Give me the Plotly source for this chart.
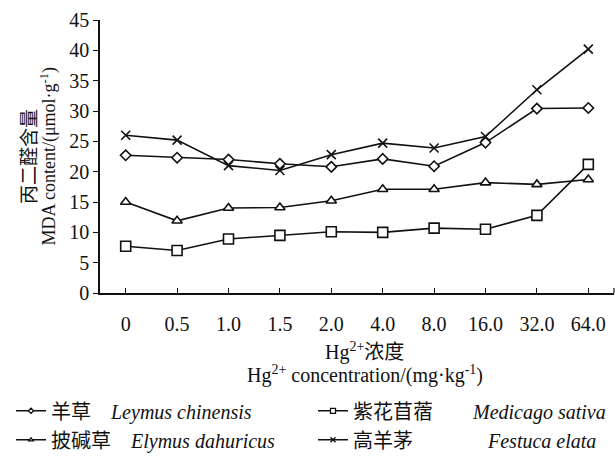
import plotly.graph_objects as go

categories = ["0", "0.5", "1.0", "1.5", "2.0", "4.0", "8.0", "16.0", "32.0", "64.0"]
leymus = [22.7, 22.3, 22.0, 21.3, 20.8, 22.1, 20.9, 24.8, 30.4, 30.5]
medicago = [7.7, 7.0, 8.9, 9.5, 10.1, 10.0, 10.7, 10.5, 12.8, 21.2]
elymus = [15.0, 11.9, 14.0, 14.1, 15.2, 17.1, 17.1, 18.2, 17.9, 18.7]
festuca = [26.0, 25.2, 21.0, 20.2, 22.8, 24.7, 23.9, 25.8, 33.5, 40.2]
y_ticks = [0, 5, 10, 15, 20, 25, 30, 35, 40, 45]

names = [
    "羊草&nbsp;&nbsp;&nbsp;&nbsp;<i>Leymus chinensis</i>",
    "紫花苜蓿&nbsp;&nbsp;&nbsp;&nbsp;&nbsp;&nbsp;&nbsp;&nbsp;<i>Medicago sativa</i>",
    "披碱草&nbsp;&nbsp;&nbsp;&nbsp;<i>Elymus dahuricus</i>",
    "高羊茅&nbsp;&nbsp;&nbsp;&nbsp;&nbsp;&nbsp;&nbsp;&nbsp;&nbsp;&nbsp;&nbsp;&nbsp;&nbsp;&nbsp;&nbsp;<i>Festuca elata</i>",
]
series = [leymus, medicago, elymus, festuca]
symbols = ["diamond", "square", "triangle-up", "x-thin-open"]
fills = ["white", "white", "white", "#111"]
sizes = [8, 10, 9, 9]
legend_sizes = [4, 5, 4, 5]

FONT = "Liberation Serif, Noto Sans CJK SC, serif"
INK = "#111111"

fig = go.Figure()
for nm, vals, sym, fc, sz in zip(names, series, symbols, fills, sizes):
    fig.add_trace(go.Scatter(
        x=categories, y=vals, name=nm, mode="lines+markers", showlegend=False,
        line=dict(color=INK, width=1.6),
        marker=dict(symbol=sym, size=sz, color=fc,
                    line=dict(color=INK, width=1.6)),
    ))
# legend entries with smaller symbols, as in the reference key
for nm, sym, fc, sz in zip(names, symbols, fills, legend_sizes):
    fig.add_trace(go.Scatter(
        x=[None], y=[None], name=nm, mode="lines+markers", showlegend=True,
        line=dict(color=INK, width=1.6),
        marker=dict(symbol=sym, size=sz, color=fc,
                    line=dict(color=INK, width=1.3)),
    ))

fig.update_layout(
    width=615, height=460,
    margin=dict(l=100, r=1, t=20, b=164),
    paper_bgcolor="white", plot_bgcolor="white",
    font=dict(family=FONT, size=20, color=INK),
    showlegend=True,
    legend=dict(
        orientation="h", x=-0.165, xanchor="left", y=-0.36, yanchor="top",
        entrywidth=257, entrywidthmode="pixels",
        font=dict(family=FONT, size=20, color=INK),
        itemwidth=30, tracegroupgap=0, traceorder="normal",
    ),
    xaxis=dict(
        type="category", range=[-0.5, 9.5], automargin=False,
        showline=True, linecolor=INK, linewidth=1.5,
        ticks="inside", ticklen=5, tickcolor=INK, tickwidth=1.2,
        showgrid=False, zeroline=False, ticklabelstandoff=12,
        tickfont=dict(family=FONT, size=20),
    ),
    yaxis=dict(
        range=[0, 45], tickvals=y_ticks, automargin=False,
        showline=True, linecolor=INK, linewidth=1.5,
        ticks="outside", ticklen=5, tickcolor=INK, tickwidth=1.2,
        showgrid=False, zeroline=False,
        tickfont=dict(family=FONT, size=20),
    ),
    annotations=[
        dict(text="丙二醛含量",
             xref="paper", yref="paper", x=-0.137, y=0.5, textangle=-90,
             showarrow=False, xanchor="center", yanchor="middle",
             font=dict(family=FONT, size=19)),
        dict(text="MDA content/(μmol·g<sup>-1</sup>)",
             xref="paper", yref="paper", x=-0.101, y=0.5, textangle=-90,
             showarrow=False, xanchor="center", yanchor="middle",
             font=dict(family=FONT, size=18)),
        dict(text="Hg<sup>2+</sup>浓度",
             xref="paper", yref="paper", x=0.515, y=-0.214,
             showarrow=False, xanchor="center", yanchor="middle",
             font=dict(family=FONT, size=20)),
        dict(text="Hg<sup>2+</sup> concentration/(mg·kg<sup>-1</sup>)",
             xref="paper", yref="paper", x=0.515, y=-0.297,
             showarrow=False, xanchor="center", yanchor="middle",
             font=dict(family=FONT, size=20)),
    ],
    shapes=[
        dict(type="line", xref="paper", yref="paper", x0=1, x1=1, y0=0, y1=0.018,
             line=dict(color=INK, width=1.2)),
    ],
)

fig.write_html(
    "out.html",
    config={"displayModeBar": False},
    post_script="document.body.style.margin='0';document.body.style.overflow='hidden';",
)
